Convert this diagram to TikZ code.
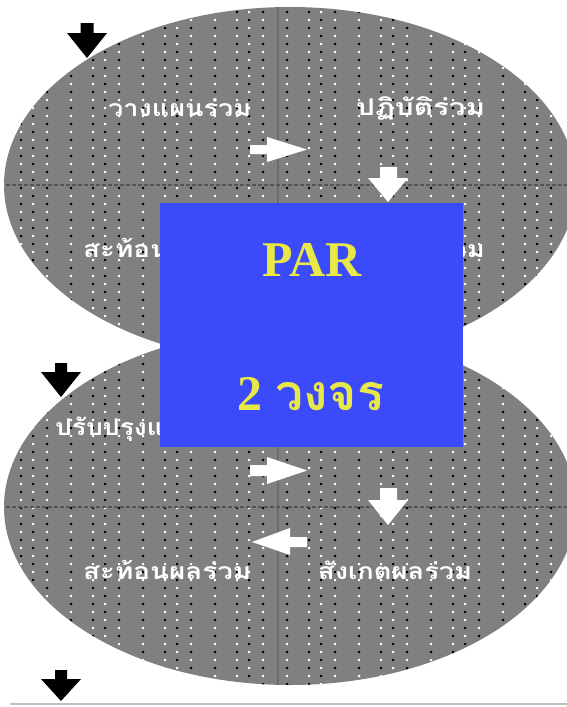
\documentclass[tikz,border=0pt]{standalone}
\usepackage{fontspec}
\setmainfont{Liberation Serif}
\newfontfamily\thaifont[Script=Thai]{Loma}
\definecolor{boxblue}{RGB}{59,74,250}
\definecolor{paryellow}{RGB}{232,232,70}
\definecolor{ellgray}{RGB}{128,128,128}
\definecolor{gridgray}{RGB}{85,85,85}
\newcommand{\fitlbl}[2]{\resizebox{#1}{\height}{#2}}
\begin{document}
\begin{tikzpicture}[x=1pt,y=-1pt,
  lbl/.style={text=white,font=\thaifont\bfseries\fontsize{23}{26}\selectfont,inner sep=0pt},
  ellfill/.style={fill=ellgray},
  gridh/.style={draw=gridgray,line width=1.2pt,dash pattern=on 4pt off 2pt},
  gridv/.style={draw=gray!85!black,line width=2pt},
  whitearrow/.style={fill=white},
  blackarrow/.style={fill=black},
  bigbox/.style={fill=boxblue,draw=none,minimum width=303pt,minimum height=244pt,inner sep=0pt},
  bigtext/.style={text=paryellow,font=\bfseries\fontsize{50}{56}\selectfont,inner sep=0pt}]
\useasboundingbox (0,0) rectangle (567,707);
\fill[white] (0,0) rectangle (567,707);
% ellipses
\fill[ellfill] (290,185) ellipse [x radius=286,y radius=178];
\fill[ellfill] (290,507) ellipse [x radius=286,y radius=178];
\begin{scope}
  \clip (290,185) ellipse [x radius=286,y radius=178] (290,507) ellipse [x radius=286,y radius=178];
  \foreach \k in {0,...,8}{
    \foreach \o/\p in {0/0,22/0,34/1,48/0}{
      \pgfmathsetmacro\xx{72*\k+\o-2}
      \pgfmathsetmacro\ya{3+8*\p}
      \pgfmathsetmacro\yb{11-8*\p}
      \fill[white] \foreach \j in {0,...,44}{(\xx,\ya+16*\j) rectangle ++(2.2,2.2)};
      \fill[black] \foreach \j in {0,...,44}{(\xx,\yb+16*\j) rectangle ++(2.2,2.2)};
    }
  }
  \draw[gridv] (278,0) -- (278,707);
  \draw[gridh] (0,185) -- (567,185);
  \draw[gridh] (0,507) -- (567,507);
\end{scope}
% labels
\node[lbl,anchor=west] (l1) at (108,108) {\fitlbl{143pt}{วางแผนร่วม}};
\node[lbl,anchor=west] (l2) at (356,108) {\fitlbl{129pt}{ปฏิบัติร่วม}};
\node[lbl,anchor=west] (l3) at (83,248) {\fitlbl{168pt}{สะท้อนผลร่วม}};
\node[lbl,anchor=east] (l4) at (485,248) {\fitlbl{154pt}{สังเกตผลร่วม}};
\node[lbl,anchor=west] (l5) at (55,429) {\scalebox{1.15}[1]{ปรับปรุงแผน}};
\node[lbl,anchor=west] (l6) at (83,570) {\fitlbl{168pt}{สะท้อนผลร่วม}};
\node[lbl,anchor=west] (l7) at (318,570) {\fitlbl{154pt}{สังเกตผลร่วม}};
% white arrows, top
\fill[whitearrow] (250,145) -- (267,145) -- (267,137) -- (307,149.5) -- (267,162) -- (267,154) -- (250,154) -- cycle;
\fill[whitearrow] (380,167) -- (397,167) -- (397,178) -- (408,178) -- (388,202) -- (368,178) -- (380,178) -- cycle;
% white arrows, bottom
\fill[whitearrow] (250,465) -- (267,465) -- (267,457) -- (307,470.5) -- (267,484) -- (267,476) -- (250,476) -- cycle;
\fill[whitearrow] (380,488) -- (397,488) -- (397,500) -- (408,500) -- (388,525) -- (368,500) -- (380,500) -- cycle;
\fill[whitearrow] (307,537) -- (290,537) -- (290,528) -- (252,542) -- (290,555) -- (290,547) -- (307,547) -- cycle;
% black arrows
\fill[blackarrow] (80.5,23) -- (93.5,23) -- (93.5,33) -- (107,33) -- (87,58) -- (67,33) -- (80.5,33) -- cycle;
\fill[blackarrow] (55,363) -- (67,363) -- (67,372) -- (81,372) -- (61,397) -- (41,372) -- (55,372) -- cycle;
\fill[blackarrow] (55,670) -- (67,670) -- (67,679) -- (81,679) -- (61,701) -- (41,679) -- (55,679) -- cycle;
% box
\node[bigbox] (box) at (311.5,325) {};
\node[bigtext,anchor=base] (par) at (312,276) {PAR};
\node[bigtext,anchor=base] (cyc) at (311,410) {2 {\thaifont\bfseries วงจร}};
% bottom rule
\draw[gray!50,line width=2pt] (10,704) -- (567,704);
\end{tikzpicture}
\end{document}
